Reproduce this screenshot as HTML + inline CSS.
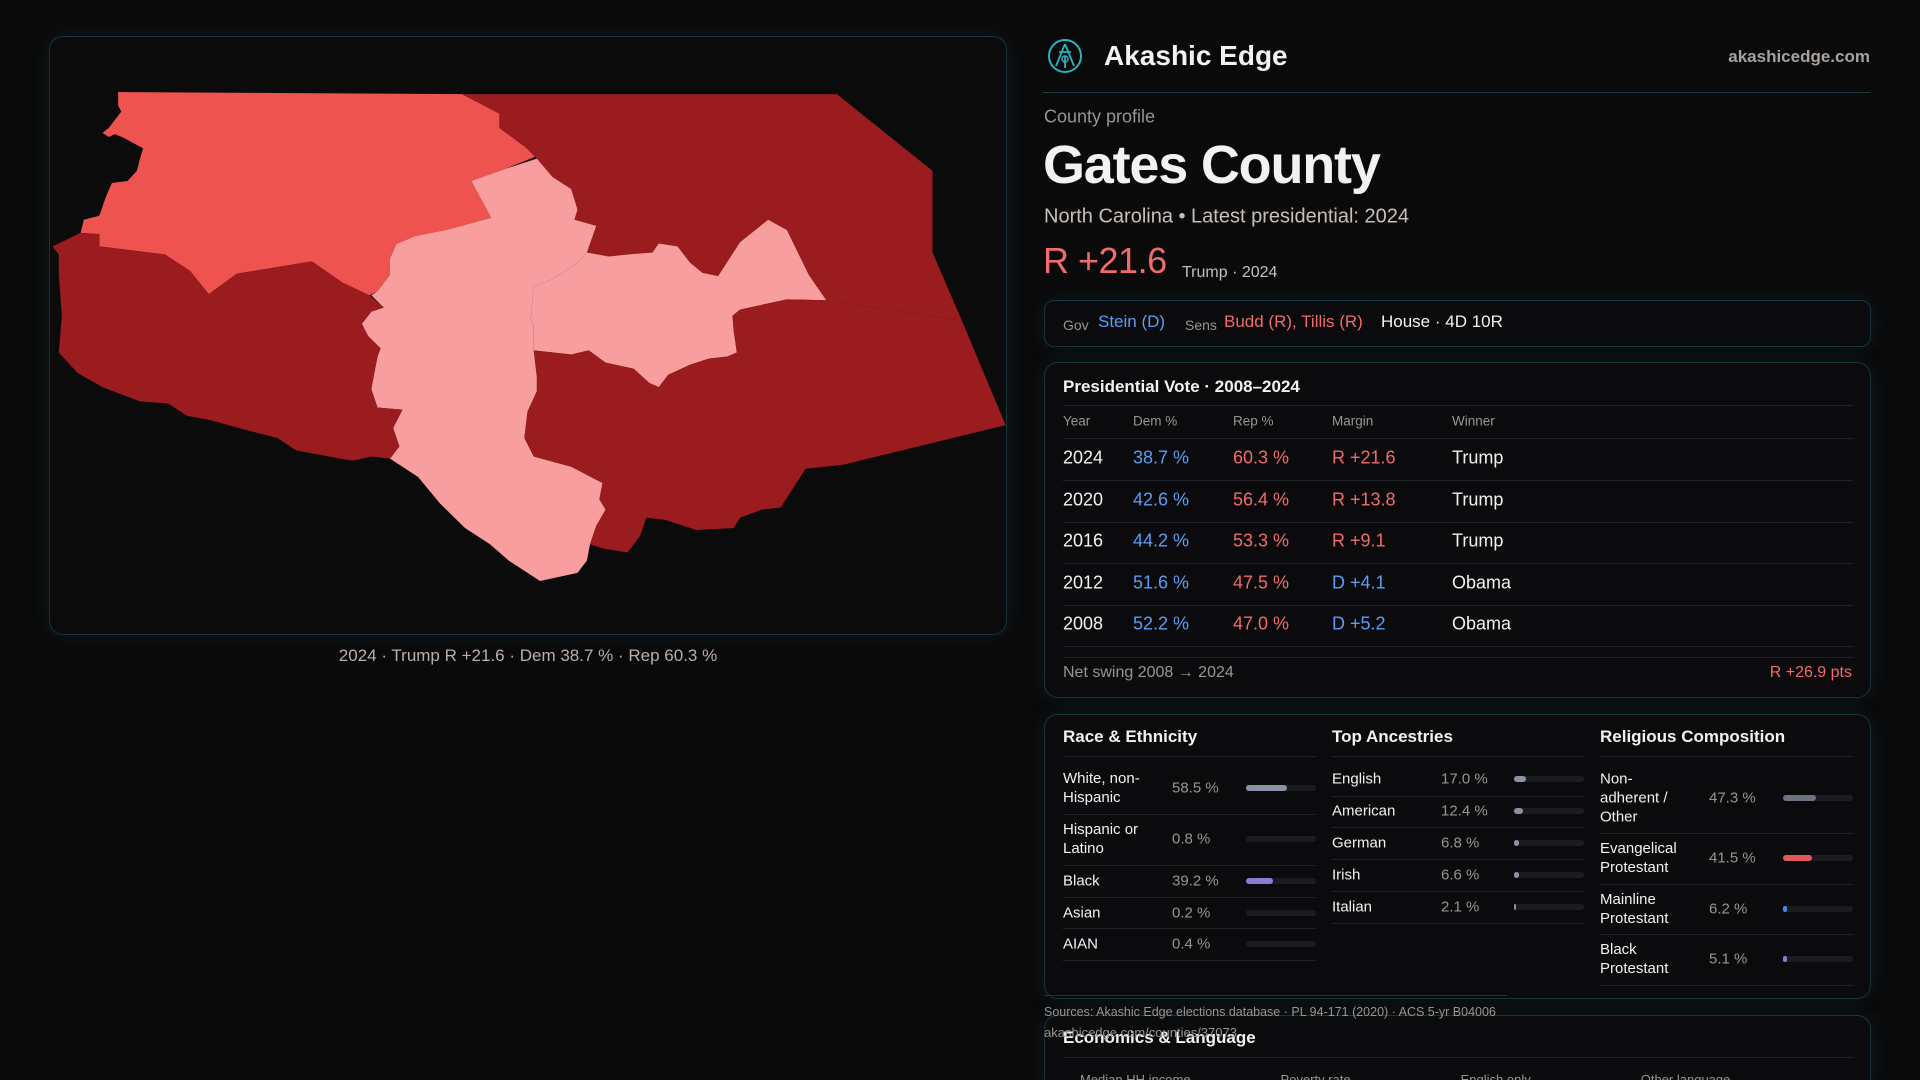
<!DOCTYPE html>
<html style="height:1080px;overflow:hidden"><head><meta charset="utf-8">
<style>
*{box-sizing:border-box;margin:0;padding:0}
html,body{overflow:hidden}
body{width:1920px;height:1080px;background:#0a0a0b;font-family:"Liberation Sans",sans-serif;color:#f2f2f2;position:relative;overflow:hidden}
.abs{position:absolute;white-space:nowrap}
.card{position:absolute;background:#0b0b0d;border:1px solid #15363b;border-radius:14px;box-shadow:0 0 18px rgba(20,70,80,.25)}
.line{position:absolute;height:1px;background:#1e2326}
.muted{color:#9a948e}
.blue{color:#5b9ef5}.red{color:#f26b6b}
.vc{transform:translateY(-50%)}
</style></head><body>

<div class="card" style="left:49px;top:36px;width:958px;height:599px;background:#0b0b0c"></div>
<svg class="abs" style="left:40px;top:30px" width="980" height="640" viewBox="0 0 1568 1568" preserveAspectRatio="none">
<polygon fill="#ef5350" points="125,152 675,157 735,205 735,240 775,285 795,305 790,312 745,340 690,370 722,460 650,490 600,505 570,525 560,560 560,600 540,640 527,650 485,620 435,567 315,597 270,647 240,590 200,550 95,530 95,500 65,497 70,465 95,455 105,410 115,375 140,370 155,345 160,315 165,290 135,265 120,255 110,262 100,252 110,240 120,220 130,200 125,185"/>
<polygon fill="#9a1c1f" points="675,157 1275,157 1428,345 1428,545 1475,712 1258,662 1230,600 1195,490 1165,465 1120,520 1085,603 1060,595 1040,570 1020,530 990,523 980,545 940,550 910,555 875,545 890,480 855,465 860,440 850,390 820,360 795,315 775,285 735,240 735,205"/>
<polygon fill="#f99e9e" points="795,315 820,360 850,390 860,440 855,465 890,480 875,545 860,570 820,610 790,630 785,710 790,720 790,785 795,850 795,885 780,935 775,1000 790,1045 850,1070 900,1110 895,1150 905,1175 890,1215 880,1260 875,1300 860,1330 800,1350 750,1300 720,1260 680,1220 640,1160 605,1095 560,1050 575,1020 565,975 580,930 540,925 530,880 540,800 545,780 525,750 515,720 530,690 550,680 530,650 540,640 560,600 560,560 570,525 600,505 650,490 722,460 690,370 745,340"/>
<polygon fill="#f99e9e" points="875,545 910,555 940,550 980,545 990,523 1020,530 1040,570 1060,595 1085,603 1120,520 1165,465 1195,490 1230,600 1258,662 1195,660 1120,685 1108,700 1110,738 1115,790 1100,800 1070,805 1040,820 1005,845 990,875 975,865 950,830 905,815 878,785 850,795 790,785 790,720 785,710 790,630 820,610 860,570"/>
<polygon fill="#9a1c1f" points="20,530 65,497 95,500 95,530 200,550 240,590 270,647 315,597 435,567 485,620 527,650 550,680 530,690 515,720 525,750 545,780 540,800 530,880 540,925 580,930 565,975 575,1020 560,1050 530,1045 500,1055 480,1050 410,1030 380,1000 330,980 270,955 235,945 205,915 160,910 100,875 60,840 30,790 35,700 30,600 30,550"/>
<polygon fill="#9a1c1f" points="790,785 850,795 878,785 905,815 950,830 975,865 990,875 1005,845 1040,820 1070,805 1100,800 1115,790 1110,738 1108,700 1120,685 1195,660 1258,662 1475,712 1545,968 1285,1065 1225,1075 1185,1170 1155,1175 1120,1195 1110,1220 1050,1225 1000,1200 970,1195 960,1240 940,1280 900,1270 880,1260 890,1215 905,1175 895,1150 900,1110 850,1070 790,1045 775,1000 780,935 795,885 795,850"/>
</svg>
<div class="abs vc" style="left:528px;top:656px;width:0;display:flex;justify-content:center;font-size:17px;color:#b8b0a8"><span style="white-space:nowrap">2024 · Trump R +21.6 · Dem 38.7 % · Rep 60.3 %</span></div>

<svg class="abs" style="left:1047px;top:38px" width="36" height="36" viewBox="0 0 36 36"><circle cx="18" cy="18" r="16" fill="none" stroke="#2bb3c0" stroke-width="2"/><path d="M18 6 L9 28 M18 6 L27 28 M12 14 L24 14 M18 18 L18 30" stroke="#2bb3c0" stroke-width="1.8" fill="none"/><circle cx="18" cy="21" r="3" fill="none" stroke="#2bb3c0" stroke-width="1.5"/></svg>
<div class="abs vc" style="left:1104px;top:56px;font-size:28px;font-weight:bold">Akashic Edge</div>
<div class="abs vc" style="right:50px;top:57px;font-size:17px;color:#a8a29e;font-weight:bold">akashicedge.com</div>
<div class="line" style="left:1043px;top:92px;width:827px;background:#1c3a3f"></div>

<div class="abs vc muted" style="left:1044px;top:117px;font-size:18px">County profile</div>
<div class="abs vc" style="left:1043px;top:165px;font-size:54px;font-weight:bold;letter-spacing:-1.2px">Gates County</div>
<div class="abs vc" style="left:1044px;top:217px;font-size:20px;color:#c8c0b8">North Carolina • Latest presidential: 2024</div>
<div class="abs vc red" style="left:1043px;top:261px;font-size:36px;letter-spacing:-0.5px">R +21.6</div>
<div class="abs vc" style="left:1182px;top:273px;font-size:16px;color:#c8c0b8">Trump · 2024</div>

<div class="card" style="left:1044px;top:300px;width:827px;height:47px;border-radius:10px"></div>
<div class="abs vc muted" style="left:1063px;top:325px;font-size:14px">Gov</div>
<div class="abs vc blue" style="left:1098px;top:322px;font-size:17px">Stein (D)</div>
<div class="abs vc muted" style="left:1185px;top:325px;font-size:14px">Sens</div>
<div class="abs vc red" style="left:1224px;top:322px;font-size:17px">Budd (R), Tillis (R)</div>
<div class="abs vc" style="left:1381px;top:322px;font-size:17px">House · 4D 10R</div>

<div class="card" style="left:1044px;top:362px;width:827px;height:336px"></div>
<div class="abs vc" style="left:1063px;top:387px;font-size:17px;font-weight:bold">Presidential Vote · 2008–2024</div>
<div class="line" style="left:1063px;top:405px;width:790px"></div>
<div class="line" style="left:1063px;top:438px;width:790px"></div>
<div id="pres"></div>
<div class="line" style="left:1063px;top:657px;width:790px"></div>
<div class="abs vc muted" style="left:1063px;top:673px;font-size:16px">Net swing 2008 → 2024</div>
<div class="abs vc red" style="right:68px;top:673px;font-size:16px">R +26.9 pts</div>

<div class="card" style="left:1044px;top:714px;width:827px;height:285px"></div>
<div class="line" style="left:1044px;top:995px;width:463px;background:#1a3438"></div>
<div id="demo"></div>

<div class="card" style="left:1044px;top:1015px;width:827px;height:80px"></div>
<div class="abs vc" style="left:1063px;top:1038px;font-size:17px;font-weight:bold">Economics &amp; Language</div>
<div class="line" style="left:1063px;top:1057px;width:790px"></div>
<div class="abs muted" style="left:1080px;top:1072px;font-size:13px">Median HH income<span style="display:inline-block;width:90px"></span>Poverty rate<span style="display:inline-block;width:110px"></span>English only<span style="display:inline-block;width:110px"></span>Other language</div>
<div class="abs muted" style="left:1044px;top:1005px;font-size:12.5px">Sources: Akashic Edge elections database · PL 94-171 (2020) · ACS 5-yr B04006</div>
<div class="abs muted" style="left:1044px;top:1025px;font-size:13px">akashicedge.com/counties/37073</div>

<script>
const years=["2024","2020","2016","2012","2008"];
const demPct=[38.7,42.6,44.2,51.6,52.2];
const repPct=[60.3,56.4,53.3,47.5,47.0];
const winners=["Trump","Trump","Trump","Obama","Obama"];
const raceLabels=["White, non-Hispanic","Hispanic or Latino","Black","Asian","AIAN"];
const raceValues=[58.5,0.8,39.2,0.2,0.4];
const ancLabels=["English","American","German","Irish","Italian"];
const ancValues=[17.0,12.4,6.8,6.6,2.1];
const relLabels=["Non-adherent / Other","Evangelical Protestant","Mainline Protestant","Black Protestant"];
const relValues=[47.3,41.5,6.2,5.1];

function mk(parent,cls,style,text,name,inter){
  const d=document.createElement('div');d.className=cls;d.style.cssText=style;if(text!==undefined)d.textContent=text;
  
  
  parent.appendChild(d);return d;
}
const pres=document.getElementById('pres');
const cols=[1063,1133,1233,1332,1452];
["Year","Dem %","Rep %","Margin","Winner"].forEach((h,i)=>{
  mk(pres,'abs vc muted',`left:${cols[i]}px;top:421px;font-size:13.5px`,h,'column-header');
});
const rowY=i=>458+i*41.6;
years.forEach((y,i)=>{
  const t=rowY(i);
  mk(pres,'abs vc',`left:${cols[0]}px;top:${t}px;font-size:18px`,y,'row-year');
  mk(pres,'abs vc blue',`left:${cols[1]}px;top:${t}px;font-size:18px`,demPct[i].toFixed(1)+' %','row-dem');
  mk(pres,'abs vc red',`left:${cols[2]}px;top:${t}px;font-size:18px`,repPct[i].toFixed(1)+' %','row-rep');
  const m=repPct[i]-demPct[i];
  mk(pres,'abs vc '+(m>0?'red':'blue'),`left:${cols[3]}px;top:${t}px;font-size:18px`,(m>0?'R +':'D +')+Math.abs(m).toFixed(1),'row-margin');
  mk(pres,'abs vc',`left:${cols[4]}px;top:${t}px;font-size:18px`,winners[i],'row-winner');
  mk(pres,'line',`left:1063px;top:${Math.round(t+22)}px;width:790px`,undefined,'row-divider');
});

const demo=document.getElementById('demo');
function column(x0,title,labels,values,colors,barX,barW,valX,centers,divs,labelW,colW){
  mk(demo,'abs vc',`left:${x0}px;top:737px;font-size:17px;font-weight:bold`,title,'section-title');
  mk(demo,'line',`left:${x0}px;top:756px;width:${colW}px`,undefined,'section-divider');
  labels.forEach((l,i)=>{
    const c=centers[i];
    mk(demo,'abs vc',`left:${x0}px;top:${c}px;font-size:15px;line-height:19px;white-space:normal;width:${labelW}px`,l,'demo-label');
    mk(demo,'abs vc muted',`left:${valX}px;top:${c}px;font-size:15px`,values[i].toFixed(1)+' %','demo-value');
    mk(demo,'abs',`left:${barX}px;top:${c-3}px;width:${barW}px;height:6px;border-radius:3px;background:#1b1c20`,undefined,'bar-track');
    const w=Math.max(2,barW*values[i]/100);
    mk(demo,'abs',`left:${barX}px;top:${c-3}px;width:${values[i]<1?0:w}px;height:6px;border-radius:3px;background:${colors[i]}`,undefined,'bar-fill');
    mk(demo,'line',`left:${x0}px;top:${divs[i]}px;width:${colW}px`,undefined,'row-divider');
  });
}
column(1063,"Race & Ethnicity",raceLabels,raceValues,["#8a93a6","#8a93a6","#8b7ad6","#8a93a6","#8a93a6"],1246,70,1172,[788,839,881,913,944],[814,865,897,928,960],100,253);
column(1332,"Top Ancestries",ancLabels,ancValues,["#8a93a6","#8a93a6","#8a93a6","#8a93a6","#8a93a6"],1514,70,1441,[779,811,843,875,907],[796,827,859,891,923],110,253);
column(1600,"Religious Composition",relLabels,relValues,["#6b7280","#e05a5a","#4a86e8","#8b7ad6"],1783,70,1709,[798,858,909,959],[833,884,934,985],90,253);
</script>
</body></html>
